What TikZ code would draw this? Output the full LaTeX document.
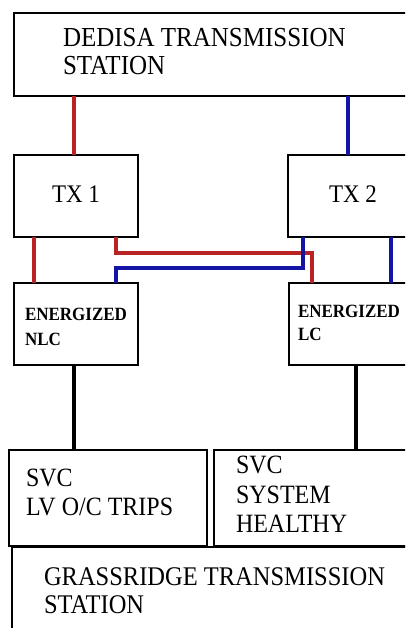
\documentclass[tikz,border=0pt]{standalone}
\usepackage{fontspec}
\setmainfont{Liberation Serif}
\definecolor{wred}{RGB}{185,35,35}
\definecolor{wblue}{RGB}{20,20,165}
\newcommand{\tallt}[1]{\scalebox{1}[1.1]{#1}}
\begin{document}
\begin{tikzpicture}[x=1pt,y=-1pt,
  box/.style={draw=black,line width=1.6pt,rectangle,inner sep=0pt,outer sep=0pt,anchor=north west},
  lbl/.style={inner sep=0pt,outer sep=0pt,anchor=base west,text=black},
  redl/.style={draw=wred,line width=3.2pt},
  bluel/.style={draw=wblue,line width=3.2pt},
  blackl/.style={draw=black,line width=3.2pt}]
\clip (0,0) rectangle (405,628);
\fill[white] (0,0) rectangle (405,628);
% boxes
\node[box,minimum width=398pt,minimum height=83pt] (dedisa) at (14,13) {};
\node[box,minimum width=124pt,minimum height=82pt] (tx1) at (14,155) {};
\node[box,minimum width=124pt,minimum height=82pt] (tx2) at (288,155) {};
\node[box,minimum width=124pt,minimum height=82pt] (nlc) at (14,283) {};
\node[box,minimum width=123pt,minimum height=82pt] (lc) at (289,283) {};
\node[box,minimum width=198pt,minimum height=96pt] (svc1) at (9,450) {};
\node[box,minimum width=198pt,minimum height=96pt] (svc2) at (214,450) {};
\node[box,minimum width=400pt,minimum height=93pt,line width=2pt] (grass) at (12,547) {};
% connector coordinates
\coordinate (c1) at (74,0);
\coordinate (c2) at (348,0);
\coordinate (c3) at (34,0);
\coordinate (c4) at (391,0);
\coordinate (c5) at (74,0);
\coordinate (c6) at (356,0);
\coordinate (ra) at (116,253);
\coordinate (rb) at (312,253);
\coordinate (ba) at (303,268);
\coordinate (bb) at (116,268);
% connectors
\draw[redl] (dedisa.south -| c1) -- (tx1.north -| c1);
\draw[bluel] (dedisa.south -| c2) -- (tx2.north -| c2);
\draw[redl] (tx1.south -| c3) -- (nlc.north -| c3);
\draw[redl] (tx1.south -| ra) -- (ra) -- (rb) -- (lc.north -| rb);
\draw[bluel] (tx2.south -| ba) -- (ba) -- (bb) -- (nlc.north -| bb);
\draw[bluel] (tx2.south -| c4) -- (lc.north -| c4);
\draw[blackl] (nlc.south -| c5) -- (svc1.north -| c5);
\draw[blackl] (lc.south -| c6) -- (svc2.north -| c6);
% labels
\node[lbl,font=\fontsize{25}{28}\selectfont] (t1a) at (63,47) {\tallt{DEDISA TRANSMISSION}};
\node[lbl,font=\fontsize{25}{28}\selectfont] (t1b) at (63,75) {\tallt{STATION}};
\node[lbl,anchor=base,font=\fontsize{23}{26}\selectfont] (t2) at (76,203) {\tallt{TX 1}};
\node[lbl,anchor=base,font=\fontsize{23}{26}\selectfont] (t3) at (353,203) {\tallt{TX 2}};
\node[lbl,font=\fontsize{17}{20}\selectfont\bfseries] (t4a) at (25,320) {\tallt{ENERGIZED}};
\node[lbl,font=\fontsize{17}{20}\selectfont\bfseries] (t4b) at (25,345) {\tallt{NLC}};
\node[lbl,font=\fontsize{17}{20}\selectfont\bfseries] (t5a) at (298,317) {\tallt{ENERGIZED}};
\node[lbl,font=\fontsize{17}{20}\selectfont\bfseries] (t5b) at (298,340) {\tallt{LC}};
\node[lbl,font=\fontsize{24}{27}\selectfont] (t6a) at (26,486) {\tallt{SVC}};
\node[lbl,font=\fontsize{24}{27}\selectfont] (t6b) at (26,515) {\tallt{LV O/C TRIPS}};
\node[lbl,font=\fontsize{24}{27}\selectfont] (t7a) at (236,473) {\tallt{SVC}};
\node[lbl,font=\fontsize{24}{27}\selectfont] (t7b) at (236,503) {\tallt{SYSTEM}};
\node[lbl,font=\fontsize{24}{27}\selectfont] (t7c) at (236,532) {\tallt{HEALTHY}};
\node[lbl,font=\fontsize{24.5}{28}\selectfont] (t8a) at (44,585) {\tallt{GRASSRIDGE TRANSMISSION}};
\node[lbl,font=\fontsize{24.5}{28}\selectfont] (t8b) at (44,613) {\tallt{STATION}};
\end{tikzpicture}
\end{document}
